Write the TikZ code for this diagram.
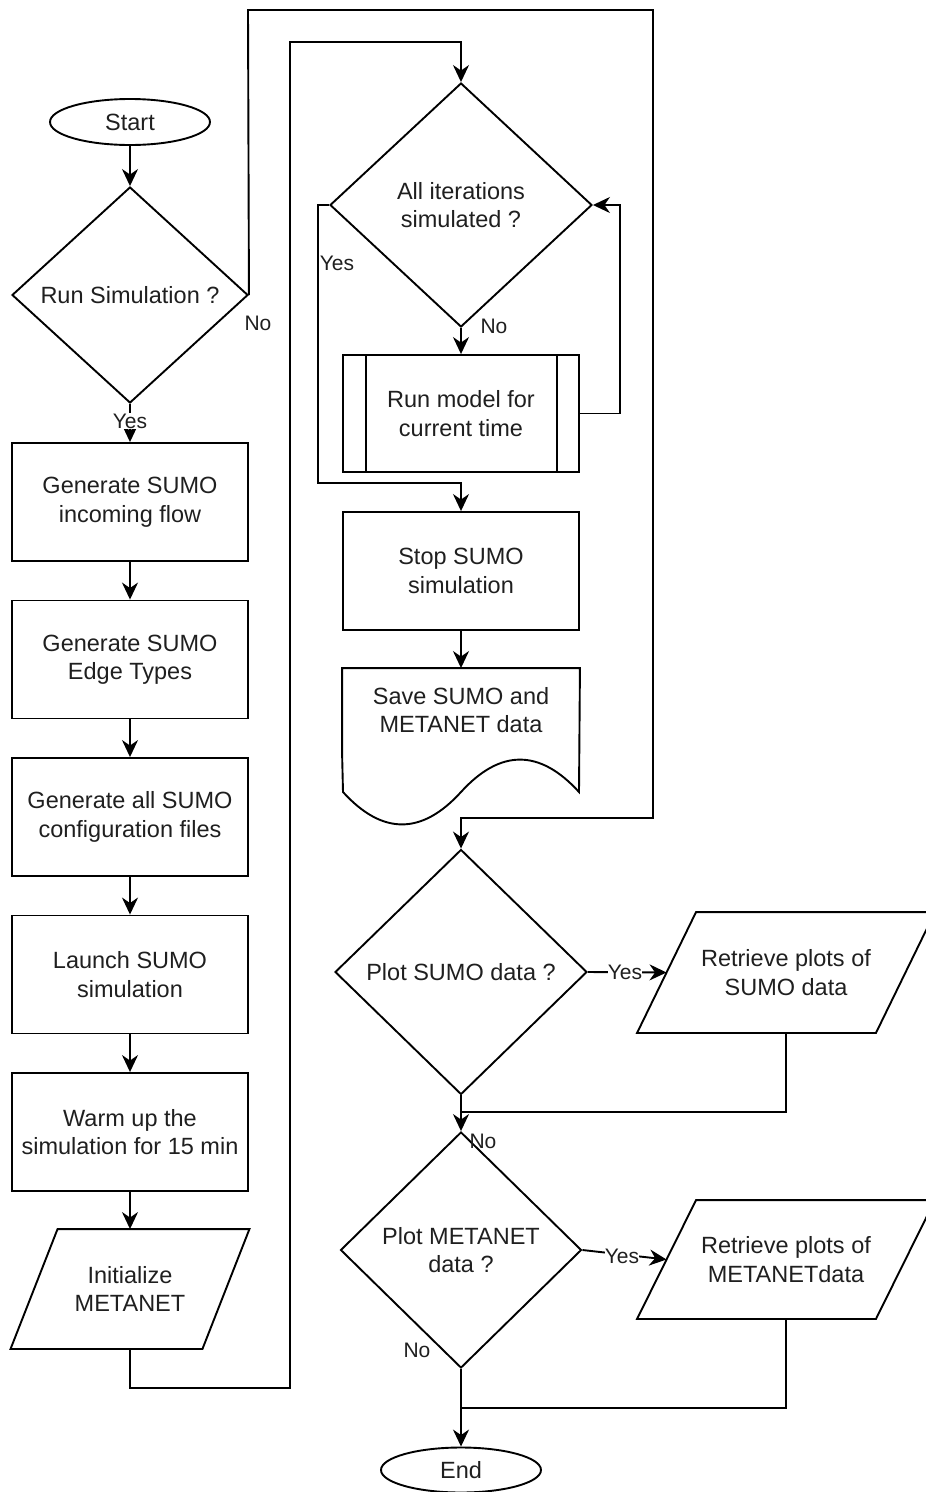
\documentclass[tikz,border=0pt]{standalone}
\usepackage{fontspec}
\setmainfont{Liberation Sans}
\usetikzlibrary{shapes.geometric,arrows.meta}
\begin{document}
\begin{tikzpicture}[x=1pt,y=-1pt,line width=1.9pt,line join=miter,
  txt/.style={font=\fontsize{23.5}{28.5}\selectfont,align=center,text=black!88},
  stepbox/.style={txt,draw,rectangle,minimum width=236pt,minimum height=118pt,inner sep=0pt},
  decision/.style={txt,draw,diamond,inner sep=0pt},
  term/.style={txt,draw,ellipse,minimum width=160pt,minimum height=46pt,inner sep=0pt},
  ghost/.style={txt,rectangle,inner sep=0pt},
  lbl/.style={font=\fontsize{21}{25}\selectfont,inner sep=1pt,text=black!88},
  arr/.style={-{Stealth[length=17pt,width=16pt,inset=5.5pt]}}]
\path[use as bounding box,clip] (0,0) rectangle (926,1492);

% left column
\node[term] (start) at (130,122) {Start};
\node[decision,minimum width=236pt,minimum height=216pt] (run) at (130,295) {Run Simulation ?};
\node[stepbox] (g1) at (130,502) {Generate SUMO\\incoming flow};
\node[stepbox] (g2) at (130,659.5) {Generate SUMO\\Edge Types};
\node[stepbox] (g3) at (130,817) {Generate all SUMO\\configuration files};
\node[stepbox] (g4) at (130,974.5) {Launch SUMO\\simulation};
\node[stepbox] (g5) at (130,1132) {Warm up the\\simulation for 15 min};
\node[ghost,minimum width=190pt,minimum height=118pt] (init) at (130,1289) {Initialize\\METANET};
\draw ([xshift=23.5pt]init.north west) -- ([xshift=23.5pt]init.north east)
  -- ([xshift=-23.5pt]init.south east) -- ([xshift=-23.5pt]init.south west) -- cycle;

% middle column
\node[decision,minimum width=262pt,minimum height=244pt] (iter) at (461,205) {All iterations\\simulated ?};
\node[stepbox,minimum height=117pt] (runm) at (461,413.5) {Run model for\\current time};
\draw (runm.north west) ++(24,0) -- ++(0,117);
\draw (runm.north east) ++(-23,0) -- ++(0,117);
\node[stepbox] (stop) at (461,571) {Stop SUMO\\simulation};
\node[ghost,minimum width=236pt,minimum height=82pt] (save) at (461,710) {Save SUMO and\\METANET data};
\draw (save.south west) -- (save.north west) -- (save.north east) -- (579,792)
  .. controls (539.7,748.8) and (500.3,748.8) .. (461,792)
  .. controls (421.7,835.2) and (382.3,835.2) .. (343,792) -- (save.south west);

\node[decision,minimum width=252pt,minimum height=245pt] (psumo) at (461,972) {Plot SUMO data ?};
\node[ghost,minimum width=237pt,minimum height=119pt] (rsumo) at (786,972.5) {Retrieve plots of\\SUMO data};
\draw ([xshift=29.5pt]rsumo.north west) -- ([xshift=29.5pt]rsumo.north east)
  -- ([xshift=-29.5pt]rsumo.south east) -- ([xshift=-29.5pt]rsumo.south west) -- cycle;

\node[decision,minimum width=241pt,minimum height=236pt] (pmeta) at (461,1250) {Plot METANET\\data ?};
\node[ghost,minimum width=237pt,minimum height=117pt] (rmeta) at (786,1259.5) {Retrieve plots of\\METANETdata};
\draw ([xshift=29.5pt]rmeta.north west) -- ([xshift=29.5pt]rmeta.north east)
  -- ([xshift=-29.5pt]rmeta.south east) -- ([xshift=-29.5pt]rmeta.south west) -- cycle;

\node[term,minimum height=45pt] (end) at (461,1470) {End};

% connectors
\draw[arr] (start) -- (run);
\draw[arr] (run.south) -- (g1.north);
\node[lbl,fill=white] (yrun) at (130,421) {Yes};
\draw[arr] (g1) -- (g2);
\draw[arr] (g2) -- (g3);
\draw[arr] (g3) -- (g4);
\draw[arr] (g4) -- (g5);
\draw[arr] (g5) -- (init);

\coordinate (a1) at (130,1388);
\coordinate (a2) at (290,1388);
\coordinate (a3) at (290,42);
\coordinate (a4) at (461,42);
\draw[arr] (init.south) -- (a1) -- (a2) -- (a3) -- (a4) -- (iter.north);

\coordinate (b1) at (248,10);
\coordinate (b2) at (653,10);
\coordinate (b3) at (653,818);
\coordinate (b4) at (461,818);
\draw[arr] (run.east) -- (b1) -- (b2) -- (b3) -- (b4) -- (psumo.north);
\node[lbl] (nrun) at (258,323) {No};

\coordinate (c1) at (318,205);
\coordinate (c2) at (318,483);
\coordinate (c3) at (461,483);
\draw[arr] (iter.west) -- (c1) -- (c2) -- (c3) -- (stop.north);
\node[lbl] (yiter) at (337,263) {Yes};

\draw[arr] (iter.south) -- (runm.north);
\node[lbl] (niter) at (494,326) {No};

\coordinate (d1) at (620,413.5);
\coordinate (d2) at (620,205);
\draw[arr] (runm.east) -- (d1) -- (d2) -- (iter.east);

\draw[arr] (stop) -- (save);

\draw[arr] (psumo.east) -- (rsumo.west);
\node[lbl,fill=white,inner sep=0pt] (ysumo) at (625,972) {Yes};
\coordinate (e1) at (786,1112);
\coordinate (e2) at (461,1112);
\draw (rsumo.south) -- (e1) -- (e2);
\draw[arr] (psumo.south) -- (pmeta.north);
\node[lbl] (nsumo) at (483,1141) {No};

\draw[arr] (pmeta.east) -- (rmeta.west);
\node[lbl,fill=white,inner sep=0pt] (ymeta) at (622,1256) {Yes};
\coordinate (f1) at (786,1408);
\coordinate (f2) at (461,1408);
\draw (rmeta.south) -- (f1) -- (f2);
\draw[arr] (pmeta.south) -- (end.north);
\node[lbl] (nmeta) at (417,1350) {No};
\end{tikzpicture}
\end{document}
